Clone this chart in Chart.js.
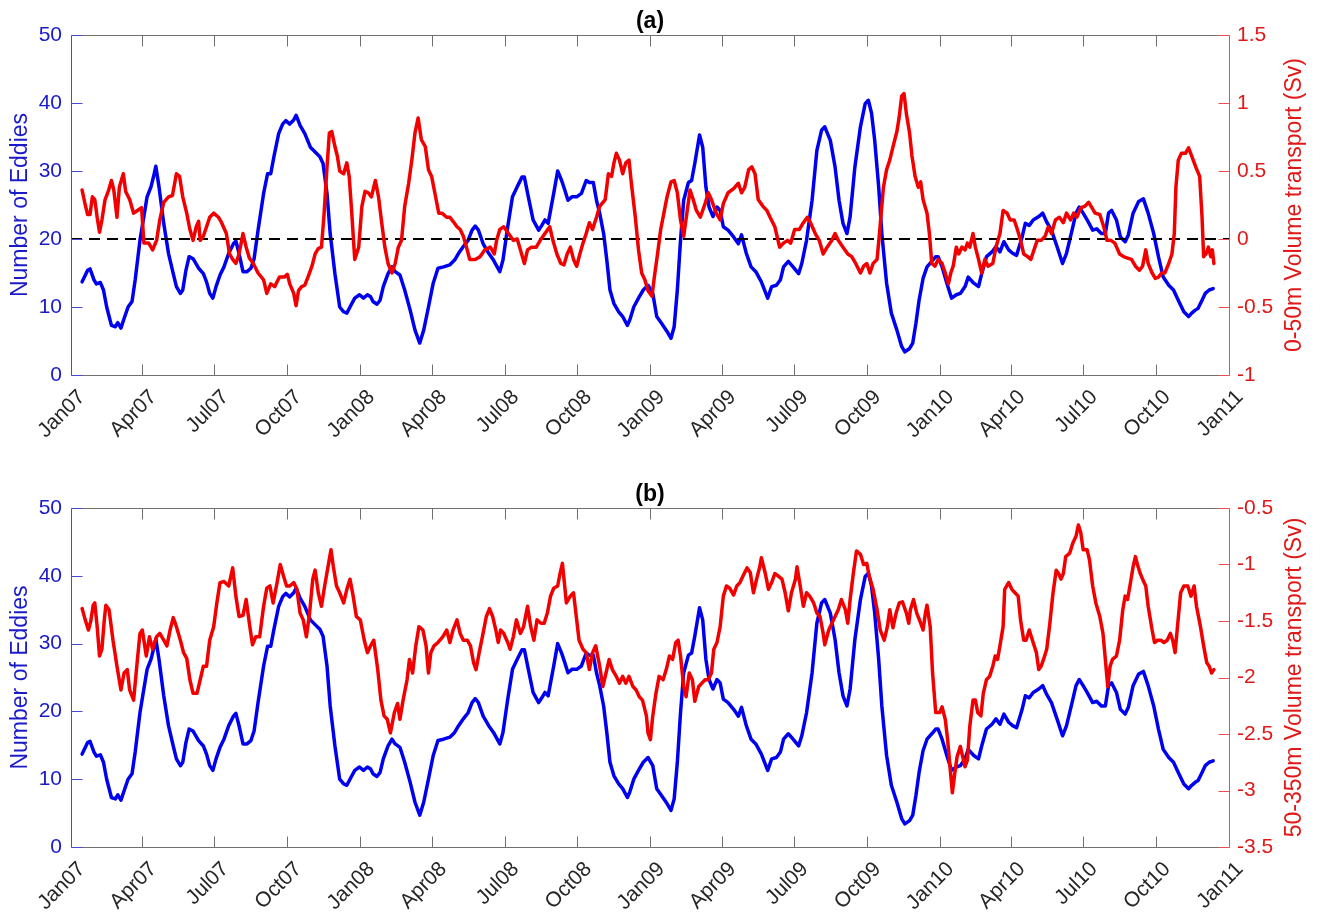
<!DOCTYPE html>
<html>
<head>
<meta charset="utf-8">
<script src="https://cdn.jsdelivr.net/npm/chart.js@4.4.1/dist/chart.umd.min.js"></script>
<style>
  html, body { margin: 0; padding: 0; background: #ffffff; }
  #wrap { position: relative; width: 1322px; height: 915px; overflow: hidden; }
  canvas { position: absolute; left: 0; }
  #panelA { top: 0; }
  #panelB { top: 457px; }
</style>
</head>
<body>
<div id="wrap">
  <canvas id="panelA" width="1322" height="457" style="width:1322px;height:457px"></canvas>
  <canvas id="panelB" width="1322" height="458" style="width:1322px;height:458px"></canvas>
</div>
<script>
// Time axis: days since 1 Jan 2007, quarterly ticks
const quarterDays = [0, 90, 181, 273, 365, 456, 547, 639, 731, 821, 912, 1004, 1096, 1186, 1277, 1369, 1461];
const quarterLabels = ['Jan07', 'Apr07', 'Jul07', 'Oct07', 'Jan08', 'Apr08', 'Jul08', 'Oct08',
                       'Jan09', 'Apr09', 'Jul09', 'Oct09', 'Jan10', 'Apr10', 'Jul10', 'Oct10', 'Jan11'];

// Number of eddies (left axis, both panels)
const eddyDays = [14,21,24,29,32,37,41,45,51,56,59,63,67,72,77,81,87,96,101,105,107,111,117,123,129,133,138,141,145,149,154,161,167,171,175,179,183,188,193,199,205,208,212,217,222,227,231,236,243,248,252,256,262,267,271,276,281,284,289,295,302,308,314,318,323,327,333,339,344,348,352,358,364,369,374,378,381,386,390,394,400,405,409,415,421,428,434,440,445,451,457,463,470,478,
  484,489,495,501,506,510,514,520,527,533,541,545,551,557,563,569,572,577,583,590,594,598,602,609,614,619,623,627,632,638,644,650,654,659,663,667,672,676,680,685,691,696,702,705,710,716,722,728,734,739,745,752,757,761,765,769,773,779,783,787,793,797,801,805,810,815,819,823,829,836,842,846,852,858,864,871,879,884,890,895,899,905,911,918,922,928,935,941,947,951,958,964,969,974,979,983,989,996,1002,1006,
  1010,1014,1019,1023,1029,1035,1042,1048,1052,1058,1062,1066,1070,1075,1080,1086,1091,1094,1099,1105,1111,1117,1122,1128,1132,1139,1145,1149,1155,1162,1167,1172,1177,1183,1188,1193,1200,1204,1209,1214,1221,1226,1231,1237,1244,1251,1256,1263,1268,1272,1277,1282,1289,1294,1300,1305,1309,1313,1319,1324,1330,1334,1340,1347,1353,1359,1366,1372,1378,1385,1391,1397,1404,1410,1414,1418,1422,1427,1431,1436,1441];
const eddyCount = [13.7,15.4,15.6,14.0,13.4,13.6,12.5,10.0,7.3,7.1,7.7,6.9,8.3,10.0,10.8,14.0,19.8,26.2,27.7,29.6,30.7,27.7,22.3,17.9,14.9,13.0,12.0,12.5,15.4,17.4,17.1,15.7,14.9,13.7,12.0,11.3,13.0,14.7,15.9,17.9,19.3,19.7,17.9,15.2,15.2,15.7,17.1,21.3,26.7,29.6,29.6,32.1,35.5,36.9,37.4,36.9,37.5,38.2,36.7,35.5,33.5,32.8,32.1,31.1,26.7,20.8,14.9,10.0,9.3,9.1,10.0,11.3,11.8,11.3,11.8,11.5,10.8,10.4,11.0,13.0,14.9,15.9,15.2,14.7,12.5,9.5,6.6,4.7,6.6,10.0,13.5,15.7,15.9,16.2,
  16.9,17.9,18.9,19.8,21.3,21.9,21.3,19.3,17.9,16.9,15.2,16.9,21.8,26.2,27.7,29.1,29.1,26.2,22.8,21.3,22.0,22.8,22.3,26.7,30.0,28.6,27.2,25.7,26.2,26.2,26.7,28.6,28.3,28.3,25.7,23.8,20.8,16.9,12.5,10.5,9.3,8.6,7.3,8.1,10.0,11.3,12.5,13.2,12.0,8.6,7.6,6.4,5.4,7.1,12.5,19.8,25.7,28.3,28.6,31.1,35.3,33.5,27.7,24.7,23.3,24.7,24.2,21.8,21.3,20.3,19.3,20.6,17.9,15.9,15.2,13.7,11.3,13.0,13.2,14.0,15.9,16.7,15.9,14.9,16.4,19.8,25.7,33.0,36.0,36.5,34.5,30.6,25.7,22.3,20.8,23.3,30.6,36.5,39.9,40.4,
  38.5,34.5,27.7,20.8,13.5,9.1,6.6,4.2,3.4,3.9,4.7,7.6,11.0,14.2,15.9,16.7,17.4,17.4,15.9,13.5,11.3,11.8,12.0,13.0,14.4,13.5,13.0,14.9,17.4,18.1,18.9,18.1,19.6,18.4,17.9,17.6,20.3,22.3,22.0,22.8,23.3,23.8,22.5,21.3,18.9,16.4,17.9,21.3,23.8,24.7,23.8,22.8,21.3,21.5,20.8,20.8,23.8,24.2,22.8,20.3,19.6,20.6,23.8,25.5,25.9,23.8,20.8,17.4,14.4,13.2,12.5,11.0,9.3,8.6,9.1,9.5,9.8,11.0,12.0,12.5,12.7];

// 0-50m volume transport, Sv (right axis, panel a)
const upperDays = [14,18,21,24,27,30,33,36,39,43,47,51,54,58,61,66,69,74,79,84,89,92,98,103,108,112,117,123,128,133,137,141,146,150,154,158,161,163,167,171,175,180,186,190,196,200,204,208,212,217,221,225,230,236,243,247,252,257,263,269,273,276,281,284,287,291,295,299,304,308,312,316,319,323,326,329,333,336,339,344,348,351,354,358,363,367,371,375,379,384,388,392,396,400,405,409,413,417,421,426,430,434,438,442,447,451,455,459,464,468,474,
  478,482,487,491,495,499,503,510,516,522,529,534,537,541,546,552,558,563,567,572,576,581,587,592,598,604,608,613,618,622,626,630,634,638,642,646,650,654,658,663,667,674,678,682,685,688,692,696,700,704,707,712,716,720,724,728,733,736,740,744,748,752,757,761,765,769,773,777,781,785,789,794,800,804,808,814,819,823,829,836,842,846,850,855,859,863,867,873,878,882,888,894,899,904,908,913,919,924,929,933,939,944,949,954,960,964,968,974,980,985,990,996,1000,1004,1008,
  1012,1017,1020,1025,1029,1033,1038,1042,1045,1048,1051,1054,1058,1061,1065,1069,1072,1075,1080,1083,1086,1090,1094,1099,1103,1107,1110,1113,1117,1120,1124,1128,1131,1134,1138,1141,1145,1149,1153,1157,1163,1167,1172,1176,1181,1185,1190,1194,1198,1202,1207,1211,1215,1219,1224,1229,1233,1237,1242,1247,1252,1256,1261,1265,1269,1274,1279,1284,1288,1292,1298,1303,1307,1312,1317,1323,1328,1333,1338,1343,1348,1352,1356,1359,1364,1368,1372,1376,1380,1385,1389,1392,1394,1397,1401,1406,1410,1414,1419,1424,1427,1429,1432,1435,1438,1440,1442];
const upperTransport = [0.36,0.25,0.18,0.18,0.31,0.29,0.16,0.05,0.14,0.29,0.35,0.43,0.36,0.16,0.38,0.48,0.35,0.29,0.19,0.21,0.23,-0.03,-0.03,-0.08,-0.01,0.14,0.27,0.31,0.32,0.48,0.46,0.31,0.19,0.07,-0.01,0.09,0.13,-0.01,0.02,0.09,0.16,0.19,0.16,0.12,0.04,-0.11,-0.15,-0.18,-0.11,0.04,-0.06,-0.14,-0.18,-0.25,-0.30,-0.40,-0.33,-0.35,-0.28,-0.28,-0.26,-0.33,-0.40,-0.49,-0.38,-0.35,-0.34,-0.28,-0.20,-0.11,-0.07,-0.06,0.16,0.53,0.78,0.79,0.68,0.61,0.50,0.48,0.56,0.46,0.21,-0.15,-0.06,0.24,0.35,0.34,0.31,0.43,0.31,0.12,-0.06,-0.18,-0.25,-0.18,-0.06,-0.01,0.24,0.41,0.58,0.78,0.89,0.73,0.68,0.51,0.46,0.34,0.19,0.19,0.16,
  0.16,0.13,0.09,0.07,0.02,-0.06,-0.15,-0.15,-0.13,-0.08,-0.06,-0.11,-0.01,0.07,0.09,0.04,-0.01,0.00,-0.08,-0.18,-0.08,-0.06,-0.06,-0.01,0.04,0.09,-0.01,-0.11,-0.18,-0.19,-0.11,-0.06,-0.15,-0.20,-0.11,-0.03,0.04,0.12,0.07,0.16,0.24,0.29,0.48,0.46,0.56,0.63,0.58,0.48,0.56,0.58,0.41,0.16,-0.08,-0.25,-0.30,-0.38,-0.42,-0.28,-0.11,0.07,0.19,0.31,0.42,0.43,0.34,0.14,0.02,0.19,0.36,0.29,0.21,0.16,0.26,0.34,0.29,0.19,0.14,0.26,0.34,0.37,0.41,0.34,0.38,0.51,0.53,0.48,0.29,0.24,0.21,0.16,0.09,-0.06,-0.03,-0.01,-0.03,0.07,0.07,0.12,0.16,0.12,0.04,-0.01,-0.11,-0.06,-0.01,0.04,-0.01,-0.06,-0.11,-0.13,-0.18,-0.25,-0.20,-0.18,-0.25,
  -0.18,-0.15,0.04,0.38,0.51,0.58,0.70,0.79,0.90,1.05,1.07,0.92,0.78,0.61,0.46,0.38,0.42,0.29,0.19,0.04,-0.18,-0.20,-0.15,-0.18,-0.25,-0.33,-0.25,-0.20,-0.06,-0.11,-0.06,-0.08,-0.03,-0.06,0.04,-0.06,-0.15,-0.25,-0.15,-0.20,-0.18,-0.06,0.04,0.21,0.19,0.14,0.14,0.07,-0.01,-0.11,-0.13,-0.15,-0.08,-0.01,-0.01,0.02,0.09,0.04,0.14,0.16,0.12,0.19,0.14,0.19,0.16,0.23,0.24,0.27,0.23,0.19,0.18,0.09,-0.01,-0.01,-0.03,-0.11,-0.13,-0.14,-0.15,-0.20,-0.23,-0.20,-0.08,-0.18,-0.25,-0.29,-0.28,-0.25,-0.25,-0.18,-0.11,0.04,0.38,0.58,0.63,0.63,0.67,0.61,0.53,0.46,0.16,-0.13,-0.11,-0.06,-0.13,-0.08,-0.18];

// 50-350m volume transport, Sv (right axis, panel b)
const deepDays = [14,18,22,25,28,30,33,36,39,42,44,48,53,58,63,67,71,74,79,83,87,90,95,99,103,108,112,117,121,125,129,133,138,142,146,150,154,159,163,167,171,175,180,184,188,193,199,204,208,212,217,221,225,229,233,238,243,247,251,255,260,264,268,272,276,281,285,289,293,297,301,305,308,312,316,320,325,328,331,335,339,344,348,352,356,360,365,370,374,378,382,387,391,395,399,403,408,412,415,419,424,427,431,435,439,444,448,451,454,458,463,469,474,
  478,482,487,491,495,500,504,508,511,515,519,524,528,532,536,539,542,546,551,554,558,562,567,571,576,580,584,588,593,597,601,605,609,614,617,620,622,625,630,634,637,641,646,650,654,658,662,667,671,675,679,683,688,692,696,700,704,709,713,717,721,726,728,731,734,738,742,747,751,755,759,763,766,769,773,776,780,784,787,792,796,800,804,808,811,815,819,823,827,831,836,840,844,848,853,857,861,865,869,871,876,880,884,888,892,897,901,905,909,914,916,920,924,928,932,937,941,945,949,951,956,960,964,968,972,977,980,983,987,991,996,1000,1004,1007,
  1012,1017,1021,1026,1030,1033,1037,1041,1045,1049,1054,1057,1059,1063,1067,1071,1075,1078,1080,1084,1087,1091,1096,1099,1103,1106,1109,1112,1115,1118,1122,1125,1128,1131,1134,1138,1141,1144,1148,1151,1155,1159,1163,1166,1169,1172,1176,1178,1183,1187,1191,1195,1198,1202,1205,1209,1213,1218,1221,1224,1227,1231,1235,1239,1243,1246,1249,1252,1255,1260,1264,1268,1271,1274,1277,1282,1285,1289,1293,1298,1302,1305,1308,1311,1314,1319,1323,1327,1330,1333,1336,1340,1343,1345,1349,1352,1356,1359,1364,1367,1371,1375,1379,1383,1387,1390,1393,1396,1400,1404,1409,1413,1417,1420,1425,1429,1433,1436,1439,1442];
const deepTransport = [-1.39,-1.49,-1.58,-1.50,-1.36,-1.34,-1.55,-1.81,-1.75,-1.49,-1.36,-1.40,-1.67,-1.90,-2.11,-1.96,-1.93,-2.11,-2.20,-1.90,-1.61,-1.58,-1.81,-1.64,-1.75,-1.64,-1.61,-1.67,-1.72,-1.58,-1.47,-1.55,-1.67,-1.78,-1.83,-2.02,-2.14,-2.14,-2.02,-1.90,-1.90,-1.67,-1.55,-1.34,-1.16,-1.15,-1.19,-1.03,-1.28,-1.46,-1.45,-1.31,-1.52,-1.71,-1.64,-1.64,-1.37,-1.21,-1.19,-1.34,-1.16,-1.00,-1.10,-1.19,-1.19,-1.16,-1.22,-1.43,-1.49,-1.64,-1.43,-1.13,-1.05,-1.25,-1.37,-1.19,-0.99,-0.87,-1.02,-1.19,-1.25,-1.34,-1.22,-1.13,-1.28,-1.46,-1.49,-1.67,-1.78,-1.72,-1.67,-1.93,-2.20,-2.34,-2.37,-2.49,-2.31,-2.23,-2.37,-2.20,-2.02,-1.84,-1.96,-1.72,-1.55,-1.58,-1.72,-1.96,-1.78,-1.72,-1.69,-1.64,-1.58,
  -1.69,-1.58,-1.49,-1.61,-1.67,-1.67,-1.72,-1.87,-1.93,-1.78,-1.64,-1.46,-1.39,-1.46,-1.58,-1.69,-1.58,-1.61,-1.69,-1.75,-1.64,-1.49,-1.61,-1.55,-1.37,-1.55,-1.67,-1.49,-1.52,-1.52,-1.43,-1.28,-1.21,-1.19,-1.08,-0.99,-1.13,-1.34,-1.28,-1.25,-1.43,-1.67,-1.75,-1.78,-1.93,-1.78,-1.72,-1.90,-2.08,-1.96,-1.84,-1.93,-1.99,-2.05,-1.99,-2.05,-1.99,-2.08,-2.11,-2.17,-2.20,-2.34,-2.49,-2.55,-2.34,-2.14,-1.99,-2.02,-1.93,-1.81,-1.84,-1.69,-1.67,-1.81,-2.08,-2.17,-1.96,-2.02,-2.21,-2.08,-2.05,-2.02,-2.02,-1.96,-1.75,-1.69,-1.55,-1.28,-1.19,-1.21,-1.27,-1.19,-1.16,-1.10,-1.03,-1.07,-1.25,-1.13,-1.02,-0.94,-1.08,-1.22,-1.16,-1.08,-1.10,-1.13,-1.25,-1.41,-1.25,-1.13,-1.02,-1.19,-1.37,-1.25,-1.28,-1.34,-1.43,-1.46,-1.61,-1.71,-1.58,-1.52,-1.46,-1.40,-1.31,-1.40,-1.52,-1.31,-1.08,-0.88,-0.91,-1.00,-0.99,-1.10,
  -1.22,-1.40,-1.58,-1.67,-1.55,-1.40,-1.56,-1.43,-1.34,-1.33,-1.43,-1.52,-1.40,-1.31,-1.43,-1.50,-1.58,-1.43,-1.36,-1.55,-1.96,-2.31,-2.31,-2.26,-2.37,-2.55,-2.79,-3.02,-2.85,-2.70,-2.61,-2.70,-2.79,-2.73,-2.43,-2.20,-2.20,-2.31,-2.34,-2.14,-2.02,-1.99,-1.90,-1.81,-1.84,-1.72,-1.55,-1.22,-1.16,-1.22,-1.25,-1.28,-1.49,-1.67,-1.67,-1.58,-1.67,-1.78,-1.93,-1.90,-1.84,-1.75,-1.52,-1.25,-1.05,-1.08,-1.13,-1.08,-0.93,-0.90,-0.81,-0.75,-0.65,-0.72,-0.87,-0.87,-0.96,-1.19,-1.34,-1.46,-1.61,-1.84,-2.08,-1.90,-1.84,-1.81,-1.67,-1.40,-1.28,-1.31,-1.19,-1.02,-0.93,-0.99,-1.08,-1.13,-1.19,-1.37,-1.58,-1.69,-1.67,-1.67,-1.69,-1.67,-1.61,-1.67,-1.78,-1.55,-1.25,-1.19,-1.19,-1.28,-1.19,-1.37,-1.55,-1.72,-1.87,-1.90,-1.96,-1.93];

const eddyReference = 20;   // dashed level in panel (a)

const FONT = '"Liberation Sans", Arial, Helvetica, sans-serif';
const BLUE_LINE = '#0000f0';
const RED_LINE = '#f20000';
const BLUE_TEXT = '#1a1ac8';
const RED_TEXT = '#e01818';
const BLUE_AXIS = '#4a4ad8';
const RED_AXIS = '#e85050';
const FRAME = '#707070';
const TICK_LEN = 11;

const pts = (xs, ys) => xs.map((x, i) => ({ x, y: ys[i] }));

// Box, inward ticks, axis titles and panel title
const axesFrame = {
  id: 'axesFrame',
  afterDraw(chart, args, opts) {
    const { ctx, chartArea: a, scales } = chart;
    const px = v => Math.round(v) + 0.5;
    const seg = (x1, y1, x2, y2, c) => {
      ctx.strokeStyle = c; ctx.beginPath(); ctx.moveTo(x1, y1); ctx.lineTo(x2, y2); ctx.stroke();
    };
    ctx.save();
    ctx.lineWidth = 1;
    const L = px(a.left), R = px(a.right), T = px(a.top), B = px(a.bottom);
    seg(L, T, R, T, FRAME);
    seg(L, B, R, B, FRAME);
    scales.x.ticks.forEach((t, i, arr) => {
      if (i === 0 || i === arr.length - 1) return;
      const x = px(scales.x.getPixelForValue(t.value));
      seg(x, T, x, T + TICK_LEN, FRAME);
      seg(x, B, x, B - TICK_LEN, FRAME);
    });
    seg(L, T, L, B, BLUE_AXIS);
    scales.yL.ticks.forEach(t => {
      const y = px(scales.yL.getPixelForValue(t.value));
      seg(L, y, L + TICK_LEN, y, BLUE_AXIS);
    });
    seg(R, T, R, B, RED_AXIS);
    scales.yR.ticks.forEach(t => {
      const y = px(scales.yR.getPixelForValue(t.value));
      seg(R, y, R - TICK_LEN, y, RED_AXIS);
    });

    const midY = (a.top + a.bottom) / 2;
    ctx.textAlign = 'center';
    ctx.textBaseline = 'middle';
    ctx.font = '23px ' + FONT;
    ctx.save();
    ctx.translate(21, midY); ctx.rotate(-Math.PI / 2);
    ctx.fillStyle = BLUE_TEXT; ctx.fillText(opts.leftTitle, 0, 0);
    ctx.restore();
    ctx.save();
    ctx.translate(1295, midY); ctx.rotate(-Math.PI / 2);
    ctx.fillStyle = RED_TEXT; ctx.fillText(opts.rightTitle, 0, 0);
    ctx.restore();

    ctx.font = 'bold 23px ' + FONT;
    ctx.fillStyle = '#000000';
    ctx.fillText(opts.panelTitle, (a.left + a.right) / 2, a.top - 13);
    ctx.restore();
  }
};

function makePanel(canvasId, cfg) {
  const tickFont = { family: FONT, size: 21 };
  return new Chart(document.getElementById(canvasId), {
    type: 'line',
    data: {
      datasets: [
        {
          data: pts(cfg.transportDays, cfg.transport), yAxisID: 'yR',
          borderColor: RED_LINE, borderWidth: 3.5, pointRadius: 0, tension: 0,
          borderJoinStyle: 'round', borderCapStyle: 'round'
        },
        ...(cfg.showReference ? [{
          data: [{ x: quarterDays[0], y: eddyReference }, { x: quarterDays[quarterDays.length - 1], y: eddyReference }],
          yAxisID: 'yL', borderColor: '#000000', borderWidth: 2, borderDash: [11, 7],
          pointRadius: 0, tension: 0
        }] : []),
        {
          data: pts(eddyDays, eddyCount), yAxisID: 'yL',
          borderColor: BLUE_LINE, borderWidth: 3.5, pointRadius: 0, tension: 0,
          borderJoinStyle: 'round', borderCapStyle: 'round'
        }
      ]
    },
    options: {
      responsive: false,
      animation: false,
      devicePixelRatio: 1,
      layout: { padding: { top: cfg.padTop, left: 0, right: 0, bottom: 0 } },
      plugins: {
        legend: { display: false },
        tooltip: { enabled: false },
        axesFrame: { panelTitle: cfg.panelTitle, leftTitle: 'Number of Eddies', rightTitle: cfg.rightTitle }
      },
      scales: {
        x: {
          type: 'linear', position: 'bottom',
          min: quarterDays[0], max: quarterDays[quarterDays.length - 1],
          afterBuildTicks: s => { s.ticks = quarterDays.map(v => ({ value: v })); },
          afterFit: s => { s.height = cfg.xHeight; },
          grid: { display: false, drawTicks: false },
          border: { display: false },
          ticks: {
            autoSkip: false, minRotation: 45, maxRotation: 45,
            padding: 10, labelOffset: 11,
            color: '#262626', font: tickFont,
            callback: (v, i) => quarterLabels[i]
          }
        },
        yL: {
          type: 'linear', position: 'left', min: 0, max: 50,
          afterFit: s => { s.width = 71; },
          grid: { display: false, drawTicks: false },
          border: { display: false },
          ticks: { stepSize: 10, padding: 9, color: BLUE_TEXT, font: tickFont }
        },
        yR: {
          type: 'linear', position: 'right', min: cfg.rMin, max: cfg.rMax,
          afterFit: s => { s.width = 93; },
          grid: { display: false, drawTicks: false },
          border: { display: false },
          ticks: { stepSize: 0.5, padding: 8, color: RED_TEXT, font: tickFont, callback: v => String(v) }
        }
      }
    },
    plugins: [axesFrame]
  });
}

makePanel('panelA', {
  panelTitle: '(a)', rightTitle: '0-50m Volume transport (Sv)',
  transportDays: upperDays, transport: upperTransport,
  rMin: -1, rMax: 1.5, padTop: 35, xHeight: 82, showReference: true
});
makePanel('panelB', {
  panelTitle: '(b)', rightTitle: '50-350m Volume transport (Sv)',
  transportDays: deepDays, transport: deepTransport,
  rMin: -3.5, rMax: -0.5, padTop: 51, xHeight: 68, showReference: false
});
</script>
</body>
</html>
